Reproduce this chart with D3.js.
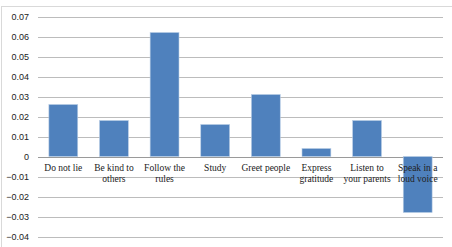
<!DOCTYPE html>
<html><head><meta charset="utf-8">
<script src="https://cdn.jsdelivr.net/npm/d3@7"></script>
<style>html,body{margin:0;padding:0;background:#fff;}</style>
</head><body>
<svg id="c" width="452" height="247"></svg>
<script>
const categories = [["Do not lie"],["Be kind to","others"],["Follow the","rules"],["Study"],["Greet people"],["Express","gratitude"],["Listen to","your parents"],["Speak in a","loud voice"]];
const values = [0.026, 0.018, 0.062, 0.016, 0.031, 0.004, 0.018, -0.028];
const yTicks = [0.07,0.06,0.05,0.04,0.03,0.02,0.01,0,-0.01,-0.02,-0.03,-0.04];

const svg = d3.select("#c");
svg.append("rect").attr("x",1.5).attr("y",6.5).attr("width",460).attr("height",260)
  .attr("fill","none").attr("stroke","#d9d9d9");

const x = d3.scaleBand().domain(d3.range(values.length)).range([38,443]).paddingInner(0.43).paddingOuter(0.215);
const y = d3.scaleLinear().domain([-0.04,0.07]).range([236.5,16.5]);

const g = svg.append("g");
g.selectAll("line.grid").data(yTicks).join("line")
  .attr("x1",38).attr("x2",443).attr("y1",d=>Math.round(y(d))+0.5).attr("y2",d=>Math.round(y(d))+0.5)
  .attr("stroke",d=>d===0?"#9a9a9a":"#bcbcbc").attr("stroke-width",1);

const yAxis = d3.axisLeft(y).tickValues(yTicks).tickSize(0).tickPadding(0)
  .tickFormat(d=> d===0 ? "0" : d3.format(".2f")(d));
const ya = svg.append("g").attr("transform","translate(29,0)").call(yAxis);
ya.select(".domain").remove();
ya.selectAll("text").attr("font-family","Liberation Sans").attr("font-size",9).attr("fill","#222");

g.selectAll("rect.bar").data(values).join("rect")
  .attr("x",(d,i)=>x(i)).attr("width",x.bandwidth())
  .attr("y",d=>y(Math.max(0,d))).attr("height",d=>Math.abs(y(d)-y(0)))
  .attr("fill","#4f81bd").attr("stroke","#b9cde5").attr("stroke-width",0.6);

const lab = svg.append("g");
categories.forEach((lines,i)=>{
  const t = lab.append("text").attr("x",x(i)+x.bandwidth()/2).attr("y",171)
    .attr("text-anchor","middle").attr("font-family","Liberation Serif").attr("font-size",9.5).attr("fill","#222");
  lines.forEach((s,j)=>t.append("tspan").attr("x",x(i)+x.bandwidth()/2).attr("dy",j===0?0:11).text(s));
});
</script>
</body></html>
